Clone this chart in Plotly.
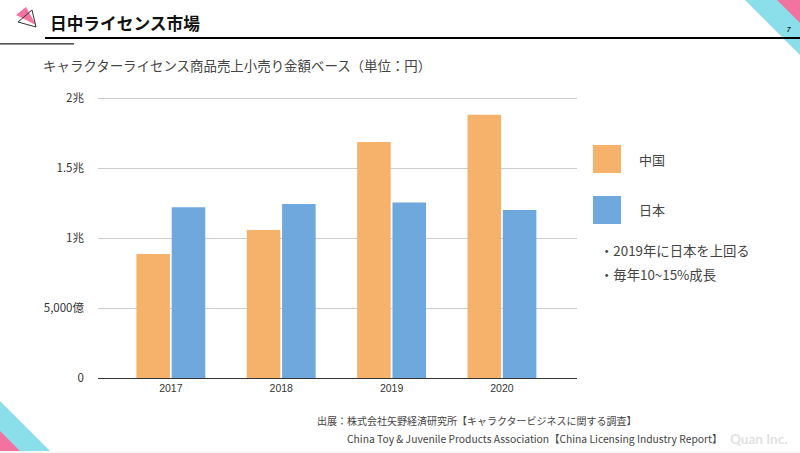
import plotly.graph_objects as go

years = ["2017", "2018", "2019", "2020"]
china = [0.886, 1.057, 1.686, 1.88]
japan = [1.22, 1.243, 1.254, 1.2]
y_ticks = [0, 0.5, 1, 1.5, 2]
y_labels = ["0", "5,000億", "1兆", "1.5兆", "2兆"]
series_names = ["中国", "日本"]
notes = ["・2019年に日本を上回る", "・毎年10~15%成長"]

W, H = 800, 453
JP = "Noto Sans CJK JP"
ORANGE, BLUE, CYAN, PINK = "#F6B26B", "#6FA8DC", "#8ADFEA", "#F272A0"


def px(x):
    return x / W


def py(y):
    return 1 - y / H


def poly(pts, fill="rgba(0,0,0,0)", line=None, width=1):
    path = "M " + " L ".join(f"{px(x):.5f},{py(y):.5f}" for x, y in pts) + " Z"
    return dict(type="path", xref="paper", yref="paper", path=path, fillcolor=fill,
                line=dict(color=line or "rgba(0,0,0,0)", width=width if line else 0), layer="below")


def rect(x0, y0, x1, y1, fill, layer="below"):
    return dict(type="rect", xref="paper", yref="paper", x0=px(x0), x1=px(x1), y0=py(y0), y1=py(y1),
                fillcolor=fill, line=dict(width=0), layer=layer)


def text(x, y, s, size, color="#444444", anchor="left", family=JP, **kw):
    return dict(xref="paper", yref="paper", x=px(x), y=py(y), text=s, showarrow=False, xanchor=anchor,
                yanchor="middle", font=dict(size=size, color=color, family=family), **kw)


fig = go.Figure()
fig.add_bar(x=years, y=china, name=series_names[0], marker=dict(color=ORANGE, line=dict(width=0)))
fig.add_bar(x=years, y=japan, name=series_names[1], marker=dict(color=BLUE, line=dict(width=0)))

shapes = [
    rect(0, 451, 800, 453, "#F7F7F7"),
    poly([(745, 0), (800, 0), (800, 55)], CYAN),
    poly([(777, 0), (800, 0), (800, 23)], PINK),
    poly([(0, 401), (0, 451), (50, 451)], CYAN),
    poly([(0, 431), (0, 451), (20, 451)], PINK),
    poly([(16, 15), (26, 7), (36, 25)], PINK),
    poly([(32, 10), (18, 22), (36, 27)], line="#333333", width=1),
    rect(45, 37, 800, 39, "#000000", "above"),
    rect(0, 43.2, 74, 44.4, "#222222", "above"),
    rect(593, 145, 621, 173, ORANGE),
    rect(593, 196, 621, 224, BLUE),
]

annotations = [
    text(48, 23, "<b>日中ライセンス市場</b>", 16.7, "#111111"),
    text(41, 65, "キャラクターライセンス商品売上小売り金額ベース（単位：円）", 13.45),
    text(637, 159, series_names[0], 13),
    text(637, 210, series_names[1], 13),
    text(598, 250, notes[0], 13.35),
    text(598, 274, notes[1], 13.35),
    text(315, 420, "出展：株式会社矢野経済研究所【キャラクタービジネスに関する調査】", 10),
    text(345, 438, "China Toy &amp; Juvenile Products Association【China Licensing Industry Report】", 10.3),
    text(728, 439, "<b>Quan Inc.</b>", 13.5, "#E2E2E2", family="Lato"),
    text(789, 29, "<b><i>7</i></b>", 7, "#222222", anchor="center"),
]

fig.update_layout(
    width=W, height=H, autosize=False, margin=dict(l=0, r=0, t=0, b=0),
    paper_bgcolor="white", plot_bgcolor="white", showlegend=False,
    barmode="group", bargap=0.36, bargroupgap=0.05,
    shapes=shapes, annotations=annotations, font=dict(family=JP),
)
fig.update_xaxes(domain=[px(98), px(577)], range=[-0.66, 3.68], type="category", showgrid=False,
                 showline=True, linecolor="#333333", linewidth=1, ticks="", automargin=False,
                 tickfont=dict(size=10.5, color="#333333", family="Liberation Sans"))
fig.update_yaxes(domain=[py(378), py(95.2)], range=[0, 2.02], tickvals=y_ticks, ticktext=y_labels,
                 showgrid=True, gridcolor="#CCCCCC", gridwidth=1, zeroline=False, showline=False,
                 ticks="", ticklabelstandoff=13, automargin=False,
                 tickfont=dict(size=11.5, color="#333333", family=JP))

fig.write_html("out.html", config=dict(displayModeBar=False),
               post_script="document.body.style.margin='0';document.documentElement.style.overflow='hidden';")
